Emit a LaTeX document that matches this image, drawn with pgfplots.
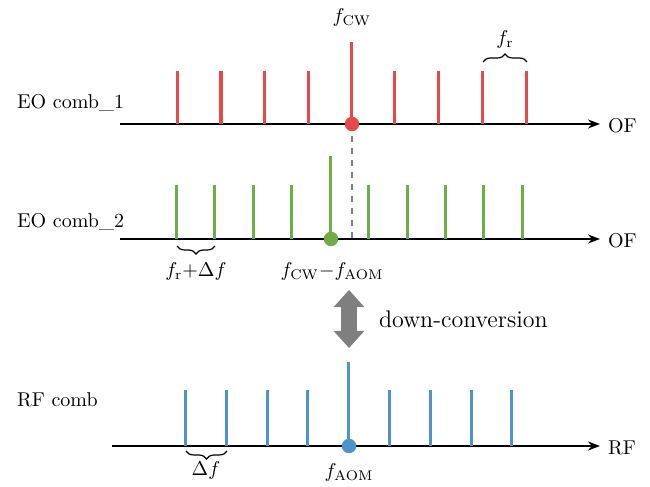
\documentclass[border=0pt]{standalone}
\usepackage{pgfplots}
\pgfplotsset{compat=1.18}
\usetikzlibrary{arrows.meta,decorations.pathreplacing,shapes.arrows}
\definecolor{combred}{HTML}{E8484A}
\definecolor{combgreen}{HTML}{6FAD47}
\definecolor{combblue}{HTML}{4F93CC}
\definecolor{arrowgray}{HTML}{7F7F7F}
% one pixel of the sketch = 0.5pt; every row spans the whole picture,
% with its own baseline at y=0
\pgfplotsset{
  row/.style={x=0.5pt, y=0.5pt, xmin=0, xmax=650, hide axis, clip=false,
    anchor=south west, at={(0,0)},
    every node/.append style={font=\fontsize{11.5}{13}\selectfont}},
  baseline/.style={black, line width=1pt, -{Stealth[length=6pt,width=4.5pt]}},
  stems/.style={ycomb, no marks, line width=1.5pt},
  dot/.style={only marks, mark=*, mark size=3.4pt},
}
\begin{document}
\begin{tikzpicture}
% fixed frame: 650 x 487 sketch pixels
\path[use as bounding box] (0,0) rectangle (325pt,243.5pt);
% EO comb_1
\begin{axis}[row, ymin=-363, ymax=124]
\addplot[baseline] coordinates {(120,0) (600,0)};
\addplot[arrowgray, dashed, line width=0.9pt] coordinates {(352,0) (352,-115)};
\addplot[combred, stems] coordinates {
  (178,53) (221,53) (265,53) (309,53) (352,82) (395,53) (439,53) (483,53) (527,53)};
\addplot[combred, dot] coordinates {(352,0)};
\node[anchor=west] at (axis cs:10,21) {EO comb\_1};
\node[anchor=west] at (axis cs:601,-2) {OF};
\node at (axis cs:352,106) {$f_{\mathrm{CW}}$};
\draw[decorate, decoration={brace, amplitude=4pt}, line width=0.6pt]
  (axis cs:483,62) -- (axis cs:527,62);
\node at (axis cs:505,84) {$f_{\mathrm{r}}$};
\end{axis}
% EO comb_2
\begin{axis}[row, ymin=-248, ymax=239]
\addplot[baseline] coordinates {(120,0) (600,0)};
\addplot[combgreen, stems] coordinates {
  (177,54) (215,54) (254,54) (292,54) (331,83) (369,54) (408,54) (446,54) (484,54) (523,54)};
\addplot[combgreen, dot] coordinates {(331,0)};
\node[anchor=west] at (axis cs:10,17) {EO comb\_2};
\node[anchor=west] at (axis cs:601,-2) {OF};
\draw[decorate, decoration={brace, amplitude=4pt, mirror}, line width=0.6pt]
  (axis cs:177,-7) -- (axis cs:215,-7);
\node at (axis cs:196,-33) {$f_{\mathrm{r}}{+}\Delta f$};
\node at (axis cs:332,-33) {$f_{\mathrm{CW}}{-}f_{\mathrm{AOM}}$};
\end{axis}
% RF comb
\begin{axis}[row, ymin=-41, ymax=446]
\addplot[baseline] coordinates {(112,0) (600,0)};
\addplot[combblue, stems] coordinates {
  (186,56) (227,56) (268,56) (308,56) (349,84) (390,56) (431,56) (472,56) (512,56)};
\addplot[combblue, dot] coordinates {(349,0)};
\node[anchor=west] at (axis cs:10,46) {RF comb};
\node[anchor=west] at (axis cs:601,-2) {RF};
\draw[decorate, decoration={brace, amplitude=4pt, mirror}, line width=0.6pt]
  (axis cs:186,-5) -- (axis cs:227,-5);
\node at (axis cs:206,-25) {$\Delta f$};
\node at (axis cs:349,-27) {$f_{\mathrm{AOM}}$};
\node[double arrow, rotate=90, fill=arrowgray, draw=none, inner sep=3.75pt,
  double arrow head extend=3.75pt, double arrow tip angle=84,
  minimum height=29pt] at (axis cs:349,127) {};
\node[anchor=west, font=\fontsize{12}{14}\selectfont] at (axis cs:372,127) {down-conversion};
\end{axis}
\end{tikzpicture}
\end{document}
